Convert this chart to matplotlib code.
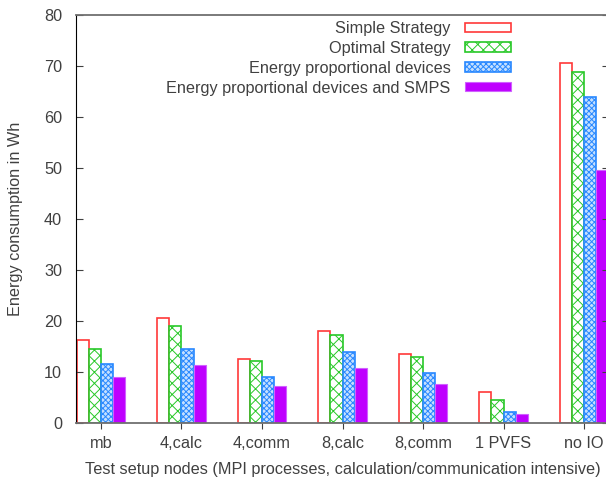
import matplotlib.pyplot as plt
import numpy as np

plt.rcParams['font.family'] = ['Liberation Sans', 'DejaVu Sans']
plt.rcParams['hatch.linewidth'] = 0.7

# data
groups = ['mb', '4,calc', '4,comm', '8,calc', '8,comm', '1 PVFS', 'no IO']
simple = [16.3, 20.5, 12.5, 18.1, 13.5, 6.1, 70.5]
optimal = [14.6, 19.0, 12.1, 17.3, 12.9, 4.5, 68.8]
prop_dev = [11.5, 14.5, 9.1, 13.9, 9.9, 2.2, 63.9]
prop_smps = [9.0, 11.3, 7.2, 10.7, 7.7, 1.8, 49.6]
series_names = ['Simple Strategy', 'Optimal Strategy',
                'Energy proportional devices', 'Energy proportional devices and SMPS']

TXT = '#404040'
FS = 11.7
W, H = 606, 479
fig = plt.figure(figsize=(W / 100, H / 100), dpi=100)
ax = fig.add_axes([76 / W, (479 - 423) / H, 533 / W, 408 / H])

x = np.arange(len(groups))
bw = 0.15
styles = [
    dict(facecolor='white', edgecolor='#ff3838', linewidth=1.2),
    dict(facecolor='white', edgecolor='#28c828', hatch='xxx', linewidth=1.2),
    dict(facecolor='#c4e0ff', edgecolor='#2888ff', hatch='xxxxxx', linewidth=1.2),
    dict(facecolor='#bf00ff', edgecolor='#d060ff', linewidth=0.8),
]
for i, (vals, st, name) in enumerate(zip([simple, optimal, prop_dev, prop_smps], styles, series_names)):
    ax.bar(x + (i - 1.5) * bw, vals, bw, label=name, **st)

ax.set_xlim(-0.31, 6.31)
ax.set_ylim(0, 80)
ax.set_yticks(range(0, 81, 10))
ax.set_xticks(x)
ax.set_xticklabels(groups)

ax.spines['left'].set_color('black')
for s in ['top', 'bottom']:
    ax.spines[s].set_color('#707070')
    ax.spines[s].set_linewidth(1.3)
ax.spines['right'].set_visible(False)

ax.tick_params(axis='y', direction='in', length=5, pad=10, labelsize=FS, labelcolor=TXT,
               right=True, color='#404040')
ax.tick_params(axis='x', direction='out', length=4, pad=5, labelsize=FS, labelcolor=TXT,
               color='#404040')

ax.set_xlabel('Test setup nodes (MPI processes, calculation/communication intensive)',
              fontsize=FS, color=TXT, labelpad=8)
ax.set_ylabel('Energy consumption in Wh', fontsize=FS, color=TXT, labelpad=15)

leg = fig.legend(loc='upper right', bbox_to_anchor=(511 / W, 1 - 21 / H), frameon=False,
                 markerfirst=False, fontsize=FS, handlelength=2.85, handleheight=0.5,
                 handletextpad=0.86, labelspacing=0.3, borderpad=0, borderaxespad=0)
for t in leg.get_texts():
    t.set_color(TXT)

fig.savefig('out.png', dpi=100)
